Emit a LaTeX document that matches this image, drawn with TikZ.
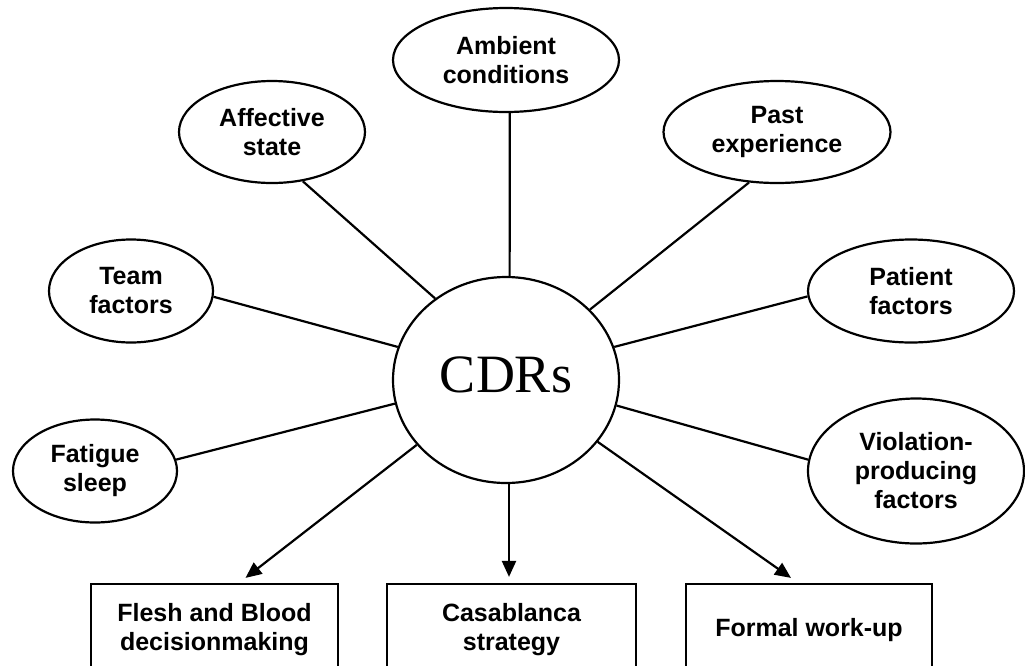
\documentclass[tikz,border=0pt]{standalone}
\usepackage{fontspec}
\setmainfont{Liberation Sans}
\newfontfamily\timesfont{Liberation Serif}
\usetikzlibrary{arrows.meta,calc,shapes.geometric}
\begin{document}
\begin{tikzpicture}[x=1pt,y=-1pt,line width=2.2pt,
  labelfont/.style={font=\fontsize{25}{29}\selectfont\bfseries},
  factor/.style={draw, ellipse, inner sep=0pt, align=center, labelfont},
  outcome/.style={draw, rectangle, inner sep=0pt, align=center, minimum width=247pt, minimum height=92pt, labelfont},
  link/.style={draw, line width=2.2pt},
  flow/.style={draw, line width=2.2pt, -{Triangle[length=16pt,width=14pt]}}]
\useasboundingbox (0,0) rectangle (1025,665);
\clip (0,0) rectangle (1025,665);
\fill[white] (0,0) rectangle (1025,665);

% central node
\node[draw, ellipse, inner sep=0pt, minimum width=226pt, minimum height=206pt,
      text depth=10pt, font=\timesfont\fontsize{54}{60}\selectfont] (cdr) at (506,380) {CDRs};

% factors
\node[factor, minimum width=226pt, minimum height=104pt] (amb) at (506,60) {Ambient\\conditions};
\node[factor, minimum width=186pt, minimum height=102pt] (aff) at (272,132) {Affective\\state};
\node[factor, minimum width=227pt, minimum height=102pt] (past) at (777,132) {Past\\experience};
\node[factor, minimum width=164pt, minimum height=103pt] (team) at (131,291) {Team\\factors};
\node[factor, minimum width=206pt, minimum height=103pt] (pat) at (911,291) {Patient\\factors};
\node[factor, minimum width=164pt, minimum height=103pt] (fat) at (95,471) {Fatigue\\sleep};
\node[factor, minimum width=216pt, minimum height=145pt] (viol) at (916,471) {Violation-\\producing\\factors};

% outcomes
\node[outcome] (flesh) at (214.5,630) {Flesh and Blood\\decisionmaking};
\node[outcome, minimum width=249pt] (cas) at (511.5,630) {Casablanca\\strategy};
\node[outcome, minimum width=246pt] (formal) at (809,630) {Formal work-up};

% arrow targets
\coordinate (fleshin) at ($(flesh.north)+(31,-5)$);
\coordinate (casin) at ($(cas.north)+(-2.5,-6)$);
\coordinate (formalin) at ($(formal.north)+(-18,-5)$);

% links
\path[link] (amb.-86) -- (cdr.88);
\path[link] (aff.-58) -- (cdr.131);
\path[link] (past.241.6) -- (cdr.40);
\path[link] (team.-4.8) -- (cdr.163);
\path[link] (pat.183.9) -- (cdr.17.3);
\path[link] (fat.8.4) -- (cdr.192);
\path[link] (viol.174.2) -- (cdr.-13.6);

% flows
\path[flow] (cdr.216) -- (fleshin);
\path[flow] (cdr.south -| casin) -- (casin);
\path[flow] (cdr.-34) -- (formalin);
\end{tikzpicture}
\end{document}
